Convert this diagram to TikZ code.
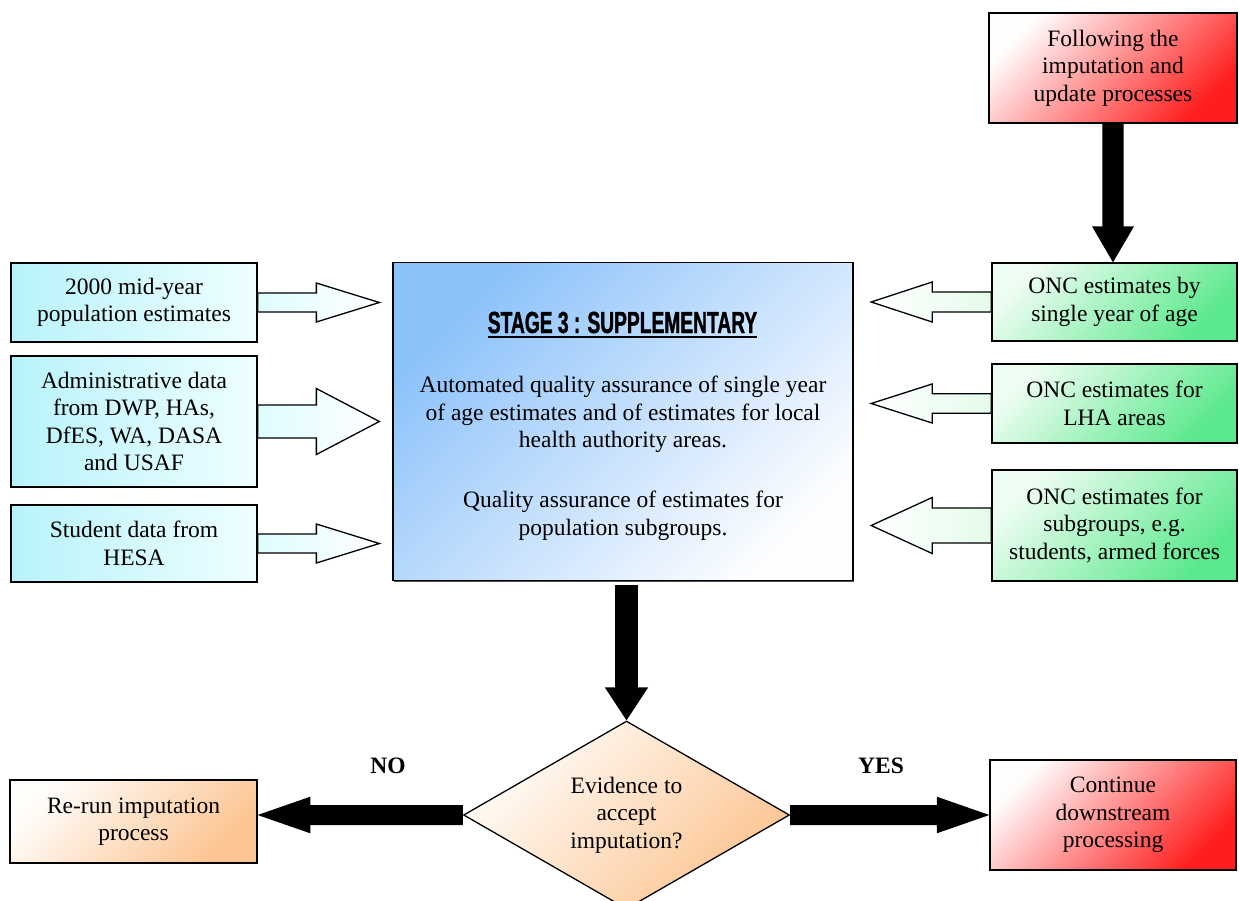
\documentclass[tikz,border=0pt]{standalone}
\usepackage{fontspec}
\setmainfont{Liberation Serif}
\newfontfamily\titlefont{Liberation Sans}[FakeStretch=0.63,BoldFeatures={FakeBold=1.2}]
\usetikzlibrary{shapes.geometric,calc,shadows,backgrounds}
\definecolor{cyanA}{RGB}{184,243,250}
\definecolor{cyanB}{RGB}{238,254,255}
\definecolor{cyanC}{RGB}{222,252,255}
\definecolor{greenA}{RGB}{238,253,242}
\definecolor{greenB}{RGB}{90,232,140}
\definecolor{greenC}{RGB}{228,252,234}
\definecolor{blueA}{RGB}{140,194,250}
\definecolor{blueB}{RGB}{252,253,255}
\definecolor{redA}{RGB}{255,252,252}
\definecolor{redB}{RGB}{255,30,30}
\definecolor{orangeA}{RGB}{255,253,250}
\definecolor{orangeB}{RGB}{252,196,145}
\newcommand\myul[1]{\setbox0=\hbox{#1}\rlap{\rule[-4.5pt]{\wd0}{2pt}}\box0}
% #1 style, #2 start, #3 tip, #4 shaft half width, #5 head half width, #6 head length
\newcommand\blockarr[6]{%
  \path ($(#3)!#6!(#2)$) coordinate (bh);
  \draw[#1] ($(#2)!#4!90:(#3)$) -- ($(bh)!#4!90:(#3)$) -- ($(bh)!#5!90:(#3)$)
    -- (#3) -- ($(bh)!#5!-90:(#3)$) -- ($(bh)!#4!-90:(#3)$) -- ($(#2)!#4!-90:(#3)$) -- cycle;}
\begin{document}
\begin{tikzpicture}[x=1pt,y=-1pt,
  txt/.style={font=\fontsize{23.5}{27.5}\selectfont, align=center},
  box/.style={txt, draw=black, line width=1.3pt, inner sep=0pt,
    drop shadow={shadow xshift=1.3pt, shadow yshift=-1.3pt, fill=black!70, opacity=1}},
  cyanbox/.style={box, left color=cyanA, right color=cyanB},
  greenbox/.style={box, top color=greenA, bottom color=greenB, shading angle=45},
  bluebox/.style={box, top color=blueA, bottom color=blueB, shading angle=45},
  redbox/.style={box, top color=redA, bottom color=redB, shading angle=45},
  orangebox/.style={box, top color=orangeA, bottom color=orangeB, shading angle=45},
  harrL/.style={draw=black, line width=1.3pt, left color=cyanC, right color=white},
  harrR/.style={draw=black, line width=1.3pt, left color=white, right color=greenC},
  blk/.style={fill=black, draw=none},
  lbl/.style={font=\bfseries\fontsize{23.5}{27.5}\selectfont}
]
\useasboundingbox (0,0) rectangle (1239,900);

% top right
\node[redbox, minimum width=248pt, minimum height=110pt] (TR) at (1113,68)
  {Following the\\imputation and\\update processes};

% left inputs
\node[cyanbox, minimum width=246pt, minimum height=79pt] (L1) at (134,302.5)
  {2000 mid-year\\population estimates};
\node[cyanbox, minimum width=246pt, minimum height=131pt] (L2) at (134,421.5)
  {Administrative data\\from DWP, HAs,\\DfES, WA, DASA\\and USAF};
\node[cyanbox, minimum width=246pt, minimum height=77pt] (L3) at (134,543.5)
  {Student data from\\HESA};

% centre
\node[bluebox, minimum width=460pt, minimum height=318pt] (C) at (623,421.5) {};
\node[inner sep=0pt, anchor=base, font=\titlefont\bfseries\fontsize{30.5}{34}\selectfont]
  (T) at (622.5,333) {\myul{STAGE 3 : SUPPLEMENTARY}};
\node[txt, inner sep=0pt] (CB) at (623,458.5)
  {Automated quality assurance of single year\\of age estimates and of estimates for local\\health authority areas.\\[32.5pt]Quality assurance of estimates for\\population subgroups.};

% right inputs
\node[greenbox, minimum width=245pt, minimum height=78pt] (R1) at (1114.5,302)
  {ONC estimates by\\single year of age};
\node[greenbox, minimum width=245pt, minimum height=79pt] (R2) at (1114.5,403.5)
  {ONC estimates for\\LHA areas};
\node[greenbox, minimum width=245pt, minimum height=111pt] (R3) at (1114.5,525.5)
  {ONC estimates for\\subgroups, e.g.\\students, armed forces};

% decision
\node[diamond, draw=black, line width=1.3pt, top color=orangeA, bottom color=orangeB,
  shading angle=45, minimum width=326pt, minimum height=188pt, aspect=1.73,
  inner sep=0pt, txt] (D) at (626.5,815) {Evidence to\\accept\\imputation?};

\node[orangebox, minimum width=247pt, minimum height=83pt] (NO) at (133.5,821.5)
  {Re-run imputation\\process};
\node[redbox, minimum width=246pt, minimum height=110pt] (YES) at (1113,815)
  {Continue\\downstream\\processing};

\node[lbl] (nolbl) at (388,766) {NO};
\node[lbl] (yeslbl) at (881,766) {YES};

\coordinate (tL1) at ($(C.west |- L1.east)+(-13,0)$);
\coordinate (tL2) at ($(C.west |- L2.east)+(-13,0)$);
\coordinate (tL3) at ($(C.west |- L3.east)+(-13,0)$);
\coordinate (tR1) at ($(C.east |- R1.west)+(17.5,0)$);
\coordinate (tR2) at ($(C.east |- R2.west)+(17.5,0)$);
\coordinate (tR3) at ($(C.east |- R3.west)+(17.5,0)$);
\coordinate (sC) at ($(D.north |- C.south)+(0,4)$);

\begin{pgfonlayer}{background}
  \blockarr{harrL}{L1.east}{tL1}{9.5pt}{19.5pt}{63pt}
  \blockarr{harrL}{L2.east}{tL2}{16.5pt}{33pt}{63pt}
  \blockarr{harrL}{L3.east}{tL3}{9.5pt}{19.5pt}{63pt}
  \blockarr{harrR}{R1.west}{tR1}{10pt}{20pt}{61pt}
  \blockarr{harrR}{R2.west}{tR2}{9.7pt}{19.5pt}{61pt}
  \blockarr{harrR}{R3.west}{tR3}{17.5pt}{28pt}{61pt}
  \blockarr{blk}{TR.south}{TR.south |- R1.north}{10.7pt}{21pt}{36pt}
  \blockarr{blk}{sC}{D.north}{11.3pt}{21.7pt}{33pt}
  \blockarr{blk}{D.west}{NO.east |- D.west}{10pt}{18.3pt}{52.6pt}
  \blockarr{blk}{D.east}{YES.west |- D.east}{10pt}{18.3pt}{52.6pt}
\end{pgfonlayer}
\end{tikzpicture}
\end{document}
